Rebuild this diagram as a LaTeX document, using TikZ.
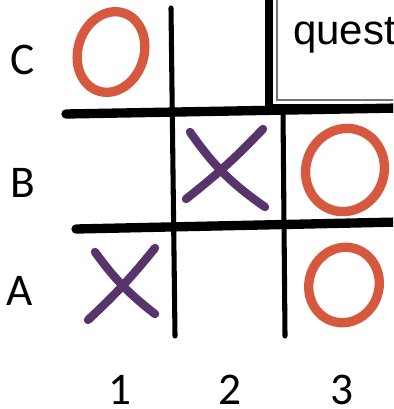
\documentclass[tikz,border=0pt]{standalone}
\usepackage{fontspec}
\setmainfont{Carlito}
\newfontfamily\qfont{Liberation Sans}
\definecolor{oink}{RGB}{214,88,62}
\definecolor{xink}{RGB}{88,52,108}

\begin{document}
\begin{tikzpicture}[
    x=0.75pt, y=-0.75pt,
    lbl/.style={font=\fontsize{34pt}{36pt}\selectfont, inner sep=0pt},
    vline/.style={draw=black, line width=3.8pt, line cap=round},
    hline/.style={draw=black, line width=7pt, line cap=round},
    omark/.style={draw=oink, line width=7pt},
    xmark/.style={draw=xink, line width=6.3pt, line cap=round}
]
    \useasboundingbox (0,0) rectangle (393,409);
    \clip (0,0) rectangle (393,409);

    % question box, cut by the frame
    \draw [line width=6pt] (269,-20) rectangle (430,108);
    \draw [black!55, line width=0.8pt] (277,-20) rectangle (430,100);
    \node (q) [anchor=base west, inner sep=0pt, font=\qfont\fontsize{31.5pt}{33pt}\selectfont] at (293,45) {quest};

    % grid
    \draw [vline] (171,8) -- (175,336);
    \draw [vline] (283,112) -- (285,336);
    \draw [hline] (66,114) -- (400,108);
    \draw [hline] (76,229) -- (400,222);

    % row and column labels
    \node (rowC) [lbl] at (23,60) {C};
    \node (rowB) [lbl] at (23,183) {B};
    \node (rowA) [lbl] at (20,291) {A};
    \node (col1) [lbl] at (120,390) {1};
    \node (col2) [lbl] at (230,390) {2};
    \node (col3) [lbl] at (342,390) {3};

    % moves
    \draw [omark, rotate around={-18:(111,52)}] (111,52) ellipse [x radius=33, y radius=41];
    \draw [omark, rotate around={-22:(345,170)}] (345,170) ellipse [x radius=39, y radius=42];
    \draw [omark, rotate around={-18:(344,285)}] (344,285) ellipse [x radius=35, y radius=38];
    \draw [xmark] (190,132) to[bend right=10] (265,207);
    \draw [xmark] (263,129) to[bend left=4] (186,199);
    \draw [xmark] (95,252) to[bend right=8] (155,314);
    \draw [xmark] (155,248) to[bend left=4] (88,320);
\end{tikzpicture}
\end{document}
